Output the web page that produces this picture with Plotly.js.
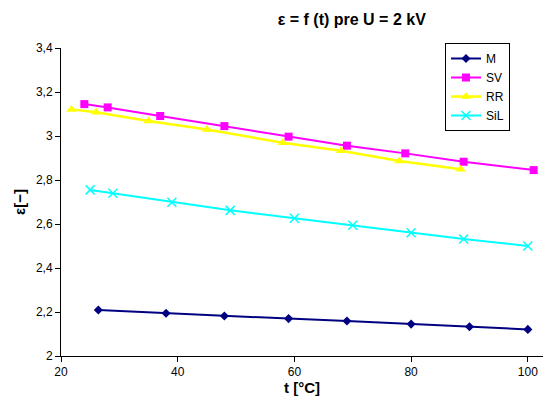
<!DOCTYPE html>
<html>
<head>
<meta charset="utf-8">
<script src="https://cdn.plot.ly/plotly-3.0.1.min.js"></script>
<style>html,body{margin:0;padding:0;background:#fff;}#chart{width:547px;height:401px;}</style>
</head>
<body>
<div id="chart"></div>
<script>
const tM = [26.4, 38, 48, 59, 69, 80, 90, 100];
const epsM = [2.209, 2.194, 2.182, 2.170, 2.159, 2.145, 2.133, 2.121];
const tSV = [24, 28, 37, 48, 59, 69, 79, 89, 101];
const epsSV = [3.145, 3.130, 3.091, 3.045, 2.997, 2.956, 2.921, 2.883, 2.845];
const tRR = [21.8, 26, 35, 45, 58, 68, 78, 88.5];
const epsRR = [3.121, 3.108, 3.068, 3.030, 2.969, 2.933, 2.886, 2.849];
const tSiL = [25, 28.9, 39, 49, 60, 70, 80, 89, 100];
const epsSiL = [2.755, 2.740, 2.699, 2.662, 2.626, 2.594, 2.560, 2.532, 2.500];
const seriesNames = ["M", "SV", "RR", "SiL"];
const xTicks = [20, 40, 60, 80, 100];
const yTicks = [2, 2.2, 2.4, 2.6, 2.8, 3, 3.2, 3.4];

const FONT = "Liberation Sans, Arial, sans-serif";

const traces = [
  {x: tM, y: epsM, name: seriesNames[0], mode: "lines+markers",
   line: {color: "#000080", width: 2},
   marker: {symbol: "diamond", size: 7, color: "#000080"}},
  {x: tSV, y: epsSV, name: seriesNames[1], mode: "lines+markers",
   line: {color: "#FF00FF", width: 2},
   marker: {symbol: "square", size: 8, color: "#FF00FF"}},
  {x: tRR, y: epsRR, name: seriesNames[2], mode: "lines+markers",
   line: {color: "#FFFF00", width: 2.5},
   marker: {symbol: "triangle-up", size: 9, color: "#FFFF00"}},
  {x: tSiL, y: epsSiL, name: seriesNames[3], mode: "lines+markers",
   line: {color: "#00FFFF", width: 2},
   marker: {symbol: "x-thin", size: 9, color: "#00FFFF", line: {color: "#00FFFF", width: 1.5}}}
];

const layout = {
  width: 547, height: 401,
  margin: {l: 61, r: 4, t: 48, b: 45},
  paper_bgcolor: "#fff", plot_bgcolor: "#fff",
  separators: ", ",
  font: {family: FONT, size: 12, color: "#000"},
  title: {text: "<b>ε = f (t) pre U = 2 kV</b>", font: {family: FONT, size: 16, color: "#000"},
          x: 330/547, xanchor: "center", xref: "paper", y: 1 - 19/401, yanchor: "middle", yref: "container"},
  xaxis: {range: [20, 102.6], tickvals: xTicks, showgrid: false, zeroline: false,
          showline: true, linecolor: "#000", linewidth: 1, ticks: "outside", ticklen: 5,
          tickcolor: "#000", tickfont: {family: FONT, size: 12, color: "#000"}},
  yaxis: {range: [2, 3.4], tickvals: yTicks, showgrid: false, zeroline: false,
          showline: true, linecolor: "#000", linewidth: 1, ticks: "outside", ticklen: 5,
          tickcolor: "#000", tickfont: {family: FONT, size: 12, color: "#000"},
          title: {text: "<b>ε[−]</b>", font: {family: FONT, size: 15, color: "#000"}, standoff: 6}},
  showlegend: true,
  legend: {x: (445-61)/482, y: (356-43)/308, xanchor: "left", yanchor: "top",
           bordercolor: "#000", borderwidth: 1, bgcolor: "#fff",
           font: {family: FONT, size: 12, color: "#000"}, tracegroupgap: 0, itemwidth: 30},
  annotations: [
    {text: "<b>t [°C]</b>", xref: "paper", yref: "paper", x: 0.5, y: -(387-356)/308,
     xanchor: "center", yanchor: "middle", showarrow: false,
     font: {family: FONT, size: 15, color: "#000"}}
  ]
};

Plotly.newPlot("chart", traces, layout, {displayModeBar: false, staticPlot: true});
</script>
</body>
</html>
